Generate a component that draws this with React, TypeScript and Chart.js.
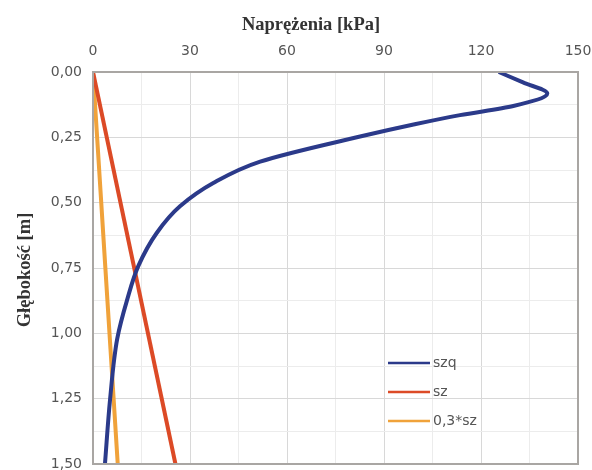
import React, { useEffect, useRef } from "react";
import { Chart, registerables } from "chart.js";

Chart.register(...registerables);

// Depths [m]
const depthSzq = [0, 0.04, 0.082, 0.13, 0.165, 0.2, 0.247, 0.343, 0.425, 0.514, 0.616, 0.743, 0.87, 1.02, 1.25, 1.5];
// szq [kPa]
const szqValues = [125.5, 133, 140.5, 130, 113.5, 99.5, 82.6, 51.7, 37.2, 26.9, 19.7, 14, 10.6, 7.5, 5.3, 3.7];
// sz [kPa]
const depthSz = [0, 1.5];
const szValues = [0, 25.5];
// 0,3*sz [kPa]
const sz03Values = [0, 7.65];

const seriesLabels = ["szq", "sz", "0,3*sz"];
const seriesColors = ["#2b3a8a", "#dc4a26", "#f0a23a"];

const xTitle = "Naprężenia [kPa]";
const yTitle = "Głębokość [m]";

const xTicksMajor = [0, 30, 60, 90, 120, 150];
const yTicksMajor = [0, 0.25, 0.5, 0.75, 1.0, 1.25, 1.5];

const isMajor = (v: number, arr: number[]) => arr.some((m) => Math.abs(m - v) < 1e-6);

const toPts = (ys: number[], xs: number[]) => ys.map((y, i) => ({ x: xs[i], y }));

const frameAndLegend = {
  id: "frameAndLegend",
  afterDraw(chart: any) {
    const { ctx, chartArea } = chart;
    ctx.save();
    ctx.strokeStyle = "#a9a6a3";
    ctx.lineWidth = 2;
    ctx.strokeRect(chartArea.left, chartArea.top, chartArea.right - chartArea.left, chartArea.bottom - chartArea.top);
    // axis titles
    ctx.fillStyle = "#333";
    ctx.font = "bold 18.5px 'Liberation Serif'";
    ctx.textAlign = "center";
    ctx.textBaseline = "middle";
    ctx.fillText(xTitle, chartArea.left + 218, 25);
    ctx.save();
    ctx.translate(25, (chartArea.top + chartArea.bottom) / 2 + 2);
    ctx.rotate(-Math.PI / 2);
    ctx.fillText(yTitle, 0, 0);
    ctx.restore();
    // legend
    const x0 = chartArea.right - 190;
    const x1 = chartArea.right - 148;
    const yStart = chartArea.bottom - 101;
    ctx.font = "14px 'DejaVu Sans'";
    ctx.textBaseline = "middle";
    ctx.textAlign = "left";
    chart.data.datasets.forEach((ds: any, i: number) => {
      const y = yStart + i * 29;
      ctx.strokeStyle = ds.borderColor;
      ctx.lineWidth = 2.5;
      ctx.beginPath();
      ctx.moveTo(x0, y);
      ctx.lineTo(x1, y);
      ctx.stroke();
      ctx.fillStyle = "#555";
      ctx.fillText(ds.label, x1 + 3, y);
    });
    ctx.restore();
  },
};

export default function App() {
  const ref = useRef<HTMLCanvasElement | null>(null);
  useEffect(() => {
    document.body.style.margin = "0";
    document.body.style.overflow = "hidden";
    const canvas = ref.current!;
    const chart = new Chart(canvas, {
      type: "line",
      data: {
        datasets: [
          { label: seriesLabels[0], data: toPts(depthSzq, szqValues), borderColor: seriesColors[0], backgroundColor: seriesColors[0] },
          { label: seriesLabels[1], data: toPts(depthSz, szValues), borderColor: seriesColors[1], backgroundColor: seriesColors[1] },
          { label: seriesLabels[2], data: toPts(depthSz, sz03Values), borderColor: seriesColors[2], backgroundColor: seriesColors[2] },
        ],
      },
      options: {
        responsive: false,
        animation: false,
        indexAxis: "y",
        layout: { padding: { left: 0, right: 14, top: 0, bottom: 12 } },
        elements: {
          line: { borderWidth: 4, cubicInterpolationMode: "monotone", fill: false },
          point: { radius: 0, hoverRadius: 0 },
        },
        plugins: { legend: { display: false }, tooltip: { enabled: false } },
        scales: {
          x: {
            type: "linear",
            position: "top",
            min: 0,
            max: 150,
            ticks: {
              stepSize: 15,
              padding: 12,
              color: "#555",
              font: { family: "'DejaVu Sans'", size: 14 },
              callback: (v: any) => (isMajor(Number(v), xTicksMajor) ? String(v) : ""),
              maxRotation: 0,
              autoSkip: false,
            },
            grid: {
              drawTicks: false,
              color: (c: any) => (isMajor(c.tick.value, xTicksMajor) ? "#d8d8d8" : "#ececec"),
              lineWidth: 1,
            },
            border: { display: false },
            title: { display: false },
            afterFit: (s: any) => {
              s.height = 72;
              s.paddingLeft = 0;
              s.paddingRight = 0;
            },
          },
          y: {
            type: "linear",
            reverse: true,
            min: 0,
            max: 1.5,
            ticks: {
              stepSize: 0.125,
              padding: 11,
              color: "#555",
              font: { family: "'DejaVu Sans'", size: 14 },
              callback: (v: any) => (isMajor(Number(v), yTicksMajor) ? Number(v).toFixed(2).replace(".", ",") : ""),
              autoSkip: false,
            },
            grid: {
              drawTicks: false,
              color: (c: any) => (isMajor(c.tick.value, yTicksMajor) ? "#d8d8d8" : "#ececec"),
              lineWidth: 1,
            },
            border: { display: false },
            title: { display: false },
            afterFit: (s: any) => {
              s.width = 93;
              s.paddingTop = 0;
              s.paddingBottom = 0;
            },
          },
        },
      },
      plugins: [frameAndLegend],
    } as any);
    return () => chart.destroy();
  }, []);
  return <canvas ref={ref} width={592} height={476} style={{ display: "block" }} />;
}
